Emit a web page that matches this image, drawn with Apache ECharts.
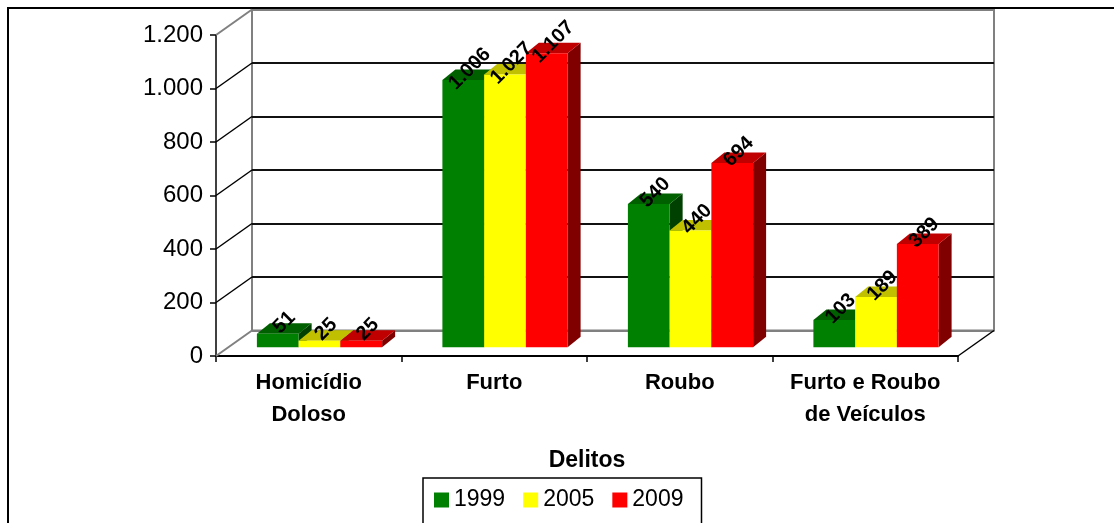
<!DOCTYPE html>
<html>
<head>
<meta charset="utf-8">
<script src="https://cdn.jsdelivr.net/npm/echarts@6/dist/echarts.min.js"></script>
<style>
  html, body { margin: 0; padding: 0; background: #fff; }
  #chart { width: 1114px; height: 523px; }
</style>
</head>
<body>
<div id="chart"></div>
<script>
// Ocorrências por tipo de delito (1999, 2005, 2009)
const categories = ['Homicídio\nDoloso', 'Furto', 'Roubo', 'Furto e Roubo\nde Veículos'];
const years = ['1999', '2005', '2009'];
const values1999 = [51, 1006, 540, 103];
const values2005 = [25, 1027, 440, 189];
const values2009 = [25, 1107, 694, 389];
const yTicks = [0, 200, 400, 600, 800, 1000, 1200];
const axisTitle = 'Delitos';

const FONT = "'Liberation Sans', Arial, Helvetica, sans-serif";

// front face, top face and side face colours of each year's columns
const palettes = [
  { front: '#008000', top: '#006000', side: '#004000' },
  { front: '#FFFF00', top: '#C0C000', side: '#808000' },
  { front: '#FF0000', top: '#C00000', side: '#800000' }
];

// plot planes: front (axes), back wall and the plane where the columns stand
const frontGrid = { left: 216, top: 35, width: 742, height: 321 };
const backGrid = { left: 252, top: 9.5, width: 742, height: 321 };
const barGrid = { left: 226.75, top: 28.6, width: 742, height: 318.7 };
const wallDepth = [backGrid.left - frontGrid.left, backGrid.top - frontGrid.top];
const barDepth = [13, -10.5];
const barFraction = 0.225;

const fmt = v => String(v).replace(/\B(?=(\d{3})+(?!\d))/g, '.');

function columnSeries(name, values, k) {
  const pal = palettes[k];
  return {
    type: 'custom',
    name: name,
    xAxisIndex: 2,
    yAxisIndex: 2,
    z: 3,
    itemStyle: { color: pal.front },
    data: values.map((v, i) => [i, v]),
    renderItem(params, api) {
      const i = api.value(0);
      const v = api.value(1);
      const base = api.coord([i, 0]);
      const top = api.coord([i, v]);
      const bw = api.size([1, 0])[0] * barFraction;
      const x = base[0] - bw * 1.5 + k * bw;
      const yt = top[1];
      const yb = base[1];
      const [dx, dy] = barDepth;
      return {
        type: 'group',
        children: [
          {
            type: 'polygon',
            shape: { points: [[x + bw, yt], [x + bw + dx, yt + dy], [x + bw + dx, yb + dy], [x + bw, yb]] },
            style: { fill: pal.side }
          },
          {
            type: 'polygon',
            shape: { points: [[x, yt], [x + bw, yt], [x + bw + dx, yt + dy], [x + dx, yt + dy]] },
            style: { fill: pal.top }
          },
          {
            type: 'rect',
            shape: { x: x, y: yt, width: bw, height: yb - yt },
            style: { fill: pal.front }
          },
          {
            type: 'text',
            x: x + bw / 2 + dx / 2,
            y: yt + dy / 2 - 6,
            rotation: Math.PI / 4,
            z2: 100,
            style: {
              text: fmt(v),
              fill: '#000',
              fontSize: 20,
              fontWeight: 'bold',
              fontFamily: FONT,
              align: 'center',
              verticalAlign: 'middle'
            }
          }
        ]
      };
    }
  };
}

// side wall edges and floor edges of the chart box
const wallSeries = {
  type: 'custom',
  name: 'walls',
  xAxisIndex: 0,
  yAxisIndex: 0,
  z: 1,
  silent: true,
  data: yTicks.map(v => [0, v]),
  renderItem(params, api) {
    const cs = params.coordSys;
    const v = api.value(1);
    const y = api.coord([0, v])[1];
    const edge = v === yTicks[0] || v === yTicks[yTicks.length - 1];
    const children = [{
      type: 'line',
      shape: { x1: cs.x, y1: y, x2: cs.x + wallDepth[0], y2: y + wallDepth[1] },
      style: { stroke: edge ? '#808080' : '#000', lineWidth: edge ? 2 : 1.5 }
    }];
    if (v === yTicks[0]) {
      children.push({
        type: 'line',
        shape: { x1: cs.x + cs.width, y1: y, x2: cs.x + cs.width + wallDepth[0], y2: y + wallDepth[1] },
        style: { stroke: '#000', lineWidth: 1.5 }
      });
    }
    return { type: 'group', children };
  }
};

const yMin = yTicks[0];
const yMax = yTicks[yTicks.length - 1];
const yStep = yTicks[1] - yTicks[0];

const chart = echarts.init(document.getElementById('chart'), null, { renderer: 'canvas' });
chart.setOption({
  animation: false,
  backgroundColor: '#fff',
  textStyle: { fontFamily: FONT },
  graphic: [{
    type: 'rect',
    silent: true,
    shape: { x: 8, y: 8, width: 1130, height: 540 },
    style: { fill: 'none', stroke: '#000', lineWidth: 2 }
  }],
  grid: [
    Object.assign({ outerBoundsMode: 'none' }, frontGrid),
    Object.assign({ outerBoundsMode: 'none', show: true, borderColor: '#808080', borderWidth: 2, backgroundColor: 'transparent' }, backGrid),
    Object.assign({ outerBoundsMode: 'none' }, barGrid)
  ],
  xAxis: [
    {
      gridIndex: 0,
      type: 'category',
      data: categories,
      boundaryGap: true,
      axisLine: { lineStyle: { color: '#000', width: 2 } },
      axisTick: { show: true, length: 6, lineStyle: { color: '#000', width: 1.5 } },
      axisLabel: {
        interval: 0,
        margin: 11,
        color: '#000',
        fontSize: 22,
        fontWeight: 'bold',
        lineHeight: 32,
        fontFamily: FONT
      },
      name: axisTitle,
      nameLocation: 'middle',
      nameGap: 92,
      nameTextStyle: { color: '#000', fontSize: 23, fontWeight: 'bold', lineHeight: 26, fontFamily: FONT }
    },
    { gridIndex: 1, type: 'category', data: categories, show: false },
    { gridIndex: 2, type: 'category', data: categories, show: false }
  ],
  yAxis: [
    {
      gridIndex: 0,
      type: 'value',
      min: yMin, max: yMax, interval: yStep,
      axisLine: { show: true, lineStyle: { color: '#000', width: 1.5 } },
      axisTick: { show: true, length: 6, lineStyle: { color: '#000', width: 1.5 } },
      axisLabel: {
        margin: 13,
        color: '#000',
        fontSize: 24,
        fontFamily: FONT,
        padding: [7, 0, 0, 0],
        formatter: v => fmt(v)
      },
      splitLine: { show: false }
    },
    {
      gridIndex: 1,
      type: 'value',
      min: yMin, max: yMax, interval: yStep,
      axisLine: { show: false },
      axisTick: { show: false },
      axisLabel: { show: false },
      splitLine: {
        show: true,
        lineStyle: {
          color: yTicks.map((v, i) => (i === 0 || i === yTicks.length - 1) ? '#808080' : '#111'),
          width: 2
        }
      }
    },
    {
      gridIndex: 2,
      type: 'value',
      min: yMin, max: yMax, interval: yStep,
      show: false
    }
  ],
  legend: {
    data: years,
    left: 423,
    top: 478,
    orient: 'horizontal',
    icon: 'rect',
    itemWidth: 15,
    itemHeight: 15,
    itemGap: 18,
    padding: [10, 18, 12, 11],
    borderColor: '#000',
    borderWidth: 1.5,
    selectedMode: false,
    textStyle: { color: '#000', fontSize: 23, lineHeight: 24, fontFamily: FONT }
  },
  series: [
    wallSeries,
    columnSeries(years[0], values1999, 0),
    columnSeries(years[1], values2005, 1),
    columnSeries(years[2], values2009, 2)
  ]
});
</script>
</body>
</html>
